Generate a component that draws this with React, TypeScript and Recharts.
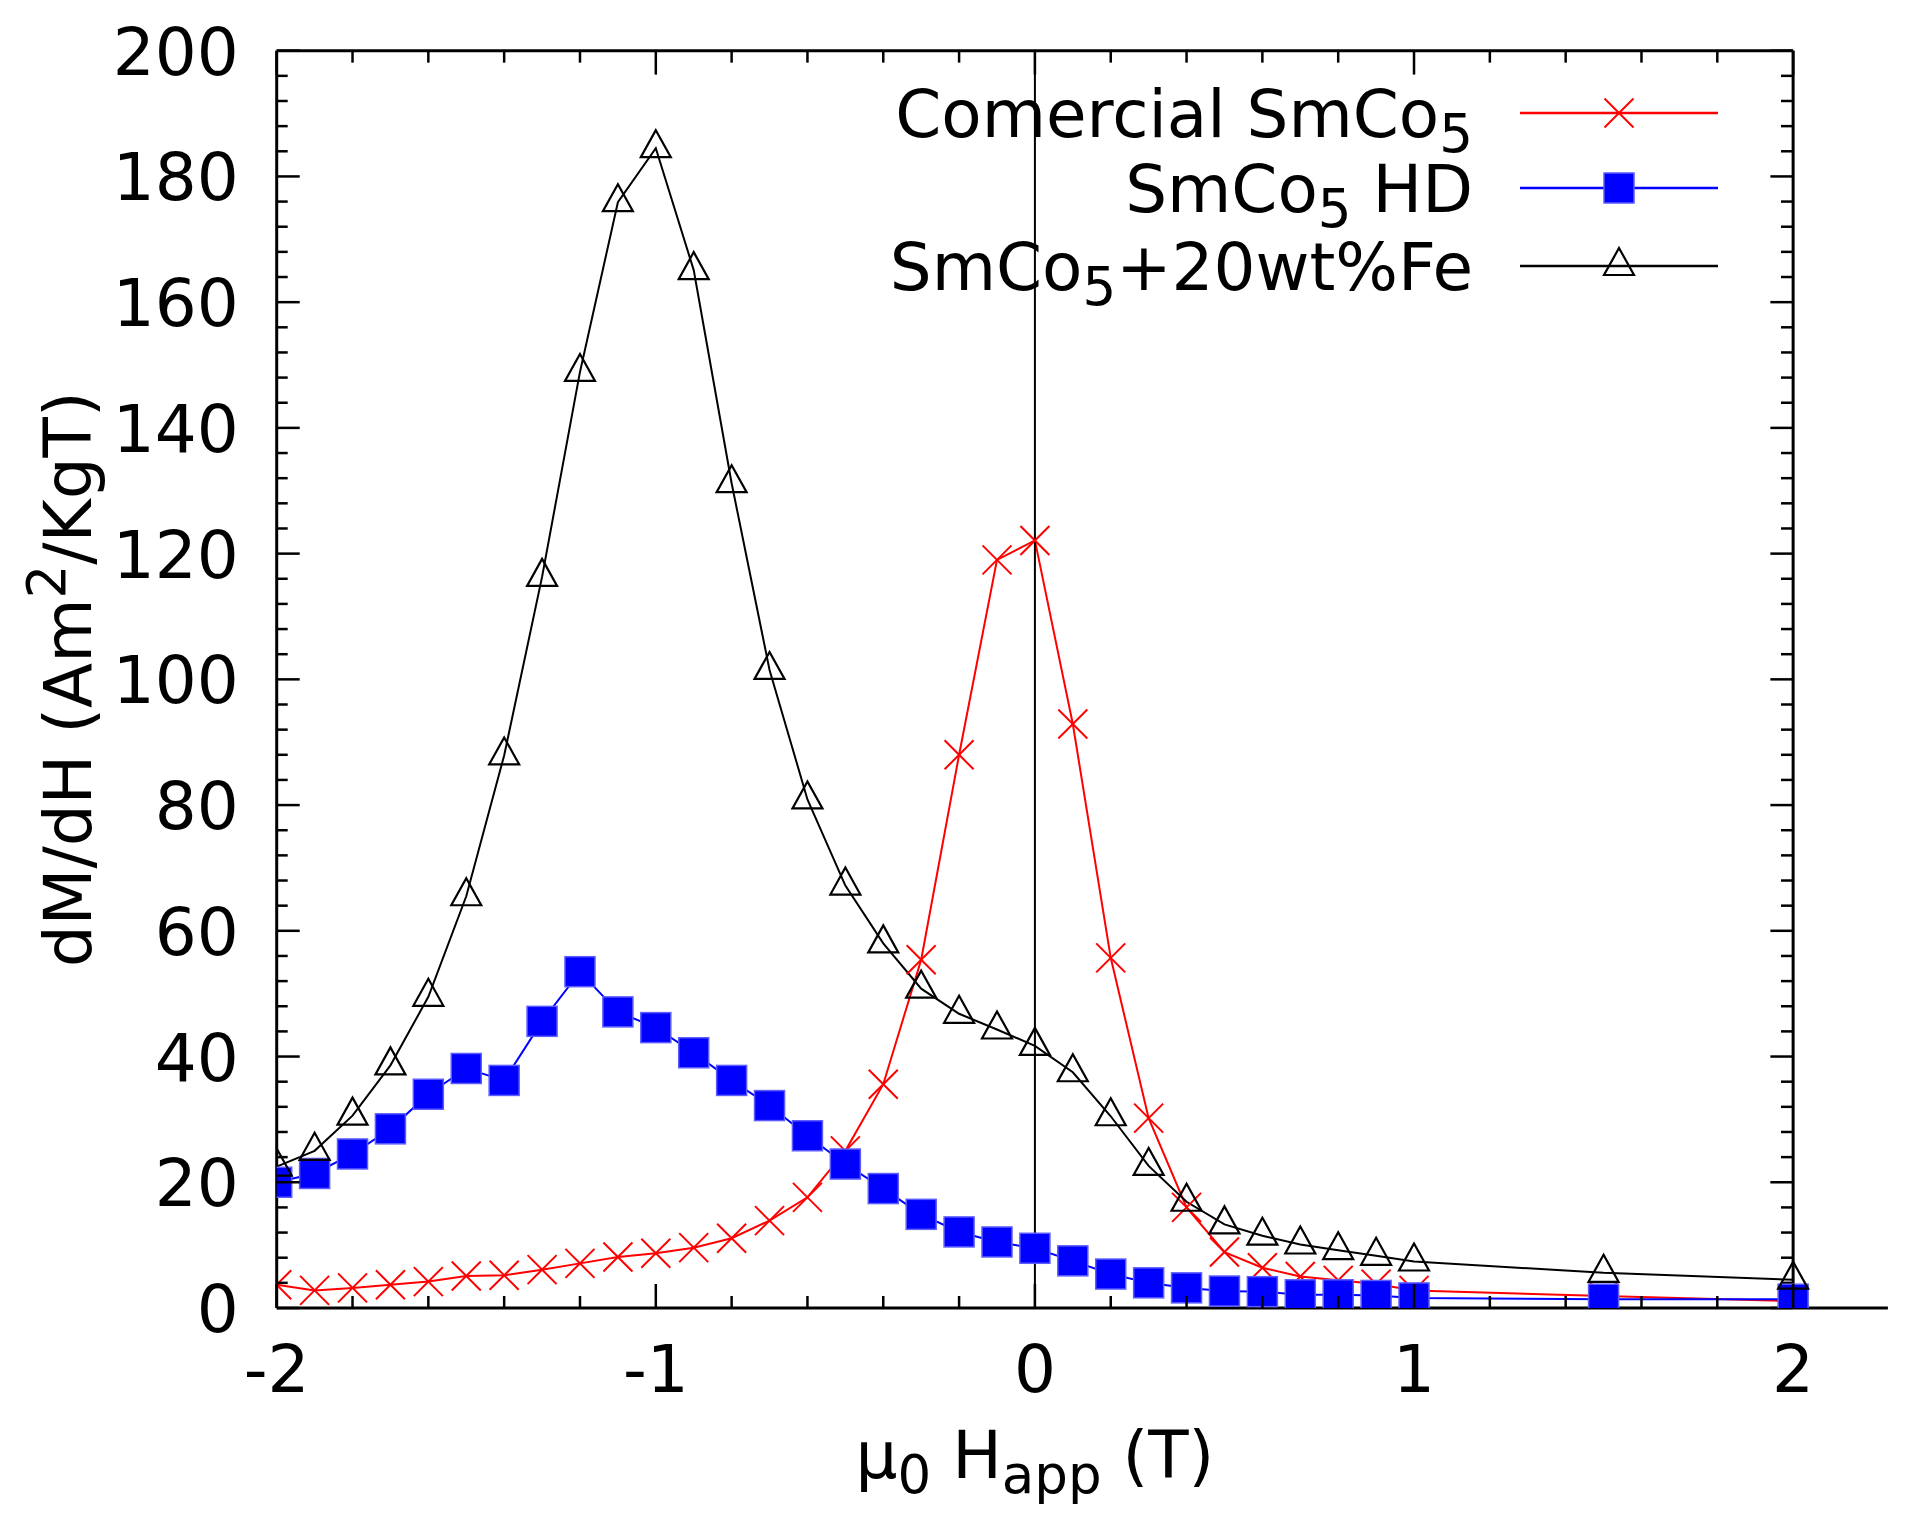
import React from "react";
import { LineChart, Line, XAxis, YAxis, ReferenceLine, Legend } from "recharts";

const FONT = "'DejaVu Sans', Verdana, sans-serif";

// applied field (T)
const FIELD_T = [
  -2, -1.9, -1.8, -1.7, -1.6, -1.5, -1.4, -1.3, -1.2, -1.1, -1.0,
  -0.9, -0.8, -0.7, -0.6, -0.5, -0.4, -0.3, -0.2, -0.1, 0,
  0.1, 0.2, 0.3, 0.4, 0.5, 0.6, 0.7, 0.8, 0.9, 1.0, 1.5, 2.0,
];

// dM/dH (Am2/KgT)
const COMERCIAL = [
  3.7, 2.8, 3.2, 3.7, 4.2, 5.1, 5.2, 6.1, 7.1, 8.1, 8.7,
  9.6, 11.1, 13.9, 17.6, 25.0, 35.6, 55.4, 88.0, 119.0, 122.1,
  92.9, 55.7, 30.2, 16.0, 8.9, 6.4, 5.0, 4.4, 3.8, 2.8, 1.9, 1.1,
];
const HD = [
  20.0, 21.4, 24.5, 28.5, 34.0, 38.1, 36.2, 45.6, 53.5, 47.1, 44.6,
  40.6, 36.2, 32.2, 27.4, 22.9, 19.0, 14.9, 12.1, 10.5, 9.5,
  7.5, 5.4, 4.0, 3.2, 2.7, 2.6, 2.1, 2.1, 2.0, 1.6, 1.4, 1.4,
];
const FE20 = [
  22.5, 25.0, 30.6, 38.6, 49.5, 65.5, 87.9, 116.3, 148.9, 175.9, 184.5,
  165.1, 131.2, 101.5, 80.9, 67.2, 58.0, 50.8, 46.8, 44.3, 41.7,
  37.5, 30.5, 22.6, 16.9, 13.3, 11.5, 10.1, 9.2, 8.3, 7.4, 5.6, 4.5,
];

const X_TICKS = [
  -2, -1.8, -1.6, -1.4, -1.2, -1, -0.8, -0.6, -0.4, -0.2, 0,
  0.2, 0.4, 0.6, 0.8, 1, 1.2, 1.4, 1.6, 1.8, 2,
];
const Y_TICKS = [
  0, 4, 8, 12, 16, 20, 24, 28, 32, 36, 40, 44, 48, 52, 56, 60, 64, 68, 72, 76,
  80, 84, 88, 92, 96, 100, 104, 108, 112, 116, 120, 124, 128, 132, 136, 140,
  144, 148, 152, 156, 160, 164, 168, 172, 176, 180, 184, 188, 192, 196, 200,
];

// frame is [-2, 2]; the bottom axis line runs a bit further
const FRAME_X = [-2, 2];
const X_DOMAIN = [-2, 2.25];
const Y_DOMAIN = [0, 200];

// mirrored tick lengths, in data units
const TOP_TICK = { major: 3.8, minor: 1.9 };
const RIGHT_TICK = { major: 0.06, minor: 0.032 };

const rows = FIELD_T.map((h, i) => ({
  h,
  comercial: COMERCIAL[i],
  hd: HD[i],
  fe: FE20[i],
}));

const isMajorX = (v: number) => Number.isInteger(v);
const isMajorY = (v: number) => v % 20 === 0;

function CrossMark({ cx, cy, stroke = "#ff0000" }: any) {
  const s = 14.5;
  return (
    <g>
      <line x1={cx - s} y1={cy - s} x2={cx + s} y2={cy + s} stroke={stroke} strokeWidth={2} />
      <line x1={cx - s} y1={cy + s} x2={cx + s} y2={cy - s} stroke={stroke} strokeWidth={2} />
    </g>
  );
}

function SquareMark({ cx, cy }: any) {
  return (
    <rect x={cx - 15} y={cy - 15} width={30} height={30} fill="#0000ff" stroke="#5c5cff" strokeWidth={1.5} />
  );
}

function TriangleMark({ cx, cy }: any) {
  const pts = `${cx},${cy - 18} ${cx - 15},${cy + 9} ${cx + 15},${cy + 9}`;
  return <polygon points={pts} fill="none" stroke="#000" strokeWidth={2.2} />;
}

function XTick({ x, y, payload }: any) {
  const v = payload.value as number;
  const major = isMajorX(v);
  return (
    <g>
      <line x1={x} x2={x} y1={y} y2={y - (major ? 24 : 12)} stroke="#000" strokeWidth={2.5} />
      {major && (
        <text x={x} y={y + 84} textAnchor="middle" fontFamily={FONT} fontSize={66} fill="#000">
          {v}
        </text>
      )}
    </g>
  );
}

function YTick({ x, y, payload }: any) {
  const v = payload.value as number;
  const major = isMajorY(v);
  return (
    <g>
      <line x1={x} x2={x + (major ? 23 : 11)} y1={y} y2={y} stroke="#000" strokeWidth={2.5} />
      {major && (
        <text x={x - 38} y={y + 24} textAnchor="end" fontFamily={FONT} fontSize={66} fill="#000">
          {v}
        </text>
      )}
    </g>
  );
}

function XTitle({ viewBox }: any) {
  const { x, y, width } = viewBox;
  const frameMid = (FRAME_X[0] + FRAME_X[1]) / 2;
  const cx = x + (width * (frameMid - X_DOMAIN[0])) / (X_DOMAIN[1] - X_DOMAIN[0]);
  return (
    <text x={cx} y={y + 170} textAnchor="middle" fontFamily={FONT} fontSize={66} fill="#000">
      μ
      <tspan fontSize={53} dy={15}>0</tspan>
      <tspan dy={-15}> H</tspan>
      <tspan fontSize={53} dy={15}>app</tspan>
      <tspan dy={-15}> (T)</tspan>
    </text>
  );
}

function YTitle({ viewBox }: any) {
  const { x, y, width, height } = viewBox;
  const tx = x + width - 185.7;
  const ty = y + height / 2;
  return (
    <text
      x={tx}
      y={ty}
      transform={`rotate(-90, ${tx}, ${ty})`}
      textAnchor="middle"
      fontFamily={FONT}
      fontSize={66}
      fill="#000"
    >
      dM/dH (Am
      <tspan fontSize={53} dy={-26}>2</tspan>
      <tspan dy={26}>/KgT)</tspan>
    </text>
  );
}

function LegendBox() {
  const textX = 765;
  const lineX1 = 812;
  const lineX2 = 1010;
  const markX = 911;
  const rowsY = [65, 140, 218];
  const textProps = { x: textX, textAnchor: "end" as const, fontFamily: FONT, fontSize: 66, fill: "#000" };
  return (
    <svg width={1050} height={260} style={{ overflow: "visible", display: "block" }}>
      <text {...textProps} y={rowsY[0] + 24}>
        Comercial SmCo
        <tspan fontSize={53} dy={15}>5</tspan>
      </text>
      <line x1={lineX1} x2={lineX2} y1={rowsY[0]} y2={rowsY[0]} stroke="#ff0000" strokeWidth={2.5} />
      <CrossMark cx={markX} cy={rowsY[0]} />

      <text {...textProps} y={rowsY[1] + 24}>
        SmCo
        <tspan fontSize={53} dy={15}>5</tspan>
        <tspan dy={-15}> HD</tspan>
      </text>
      <line x1={lineX1} x2={lineX2} y1={rowsY[1]} y2={rowsY[1]} stroke="#0000ff" strokeWidth={2.5} />
      <SquareMark cx={markX} cy={rowsY[1]} />

      <text {...textProps} y={rowsY[2] + 24}>
        SmCo
        <tspan fontSize={53} dy={15}>5</tspan>
        <tspan dy={-15}>+20wt%Fe</tspan>
      </text>
      <line x1={lineX1} x2={lineX2} y1={rowsY[2]} y2={rowsY[2]} stroke="#000" strokeWidth={2.5} />
      <TriangleMark cx={markX} cy={rowsY[2]} />
    </svg>
  );
}

export default function App() {
  return (
    <div style={{ width: 1890, height: 1510, background: "#fff" }}>
      <LineChart
        width={1890}
        height={1510}
        data={rows}
        margin={{ top: 42.7, right: 10.1, left: 168.7, bottom: 150 }}
      >
        <XAxis
          dataKey="h"
          type="number"
          domain={X_DOMAIN}
          allowDataOverflow
          ticks={X_TICKS}
          interval={0}
          tickSize={0}
          tickMargin={0}
          tickLine={false}
          tick={(p: any) => <XTick {...p} />}
          axisLine={{ stroke: "#000", strokeWidth: 3 }}
          height={60}
          label={<XTitle />}
        />
        <YAxis
          type="number"
          domain={Y_DOMAIN}
          allowDataOverflow
          ticks={Y_TICKS}
          interval={0}
          tickSize={0}
          tickMargin={0}
          tickLine={false}
          tick={(p: any) => <YTick {...p} />}
          axisLine={{ stroke: "#000", strokeWidth: 3 }}
          width={100}
          label={<YTitle />}
        />

        <Legend
          layout="vertical"
          align="center"
          verticalAlign="middle"
          content={() => <LegendBox />}
          wrapperStyle={{ position: "absolute", left: 700, top: 40, width: 1050, height: 260 }}
        />

        <Line
          dataKey="comercial"
          type="linear"
          stroke="#ff0000"
          strokeWidth={2}
          isAnimationActive={false}
          dot={(p: any) => <CrossMark key={`c-${p.index}`} cx={p.cx} cy={p.cy} />}
          activeDot={false}
        />
        <Line
          dataKey="hd"
          type="linear"
          stroke="#0000ff"
          strokeWidth={2}
          isAnimationActive={false}
          dot={(p: any) => <SquareMark key={`s-${p.index}`} cx={p.cx} cy={p.cy} />}
          activeDot={false}
        />
        <Line
          dataKey="fe"
          type="linear"
          stroke="#000000"
          strokeWidth={2}
          isAnimationActive={false}
          dot={(p: any) => <TriangleMark key={`t-${p.index}`} cx={p.cx} cy={p.cy} />}
          activeDot={false}
        />

        {/* frame: x = 0 marker line, right border at x = 2, top border */}
        <ReferenceLine x={0} stroke="#000" strokeWidth={2} />
        <ReferenceLine x={FRAME_X[1]} stroke="#000" strokeWidth={3} />
        <ReferenceLine
          segment={[{ x: FRAME_X[0], y: Y_DOMAIN[1] }, { x: FRAME_X[1], y: Y_DOMAIN[1] }]}
          stroke="#000"
          strokeWidth={3}
        />

        {/* mirrored ticks on top and right borders */}
        {X_TICKS.map((v) => (
          <ReferenceLine
            key={`tt-${v}`}
            segment={[
              { x: v, y: Y_DOMAIN[1] },
              { x: v, y: Y_DOMAIN[1] - (isMajorX(v) ? TOP_TICK.major : TOP_TICK.minor) },
            ]}
            stroke="#000"
            strokeWidth={2.5}
          />
        ))}
        {Y_TICKS.map((v) => (
          <ReferenceLine
            key={`rt-${v}`}
            segment={[
              { x: FRAME_X[1], y: v },
              { x: FRAME_X[1] - (isMajorY(v) ? RIGHT_TICK.major : RIGHT_TICK.minor), y: v },
            ]}
            stroke="#000"
            strokeWidth={2.5}
          />
        ))}
      </LineChart>
    </div>
  );
}
